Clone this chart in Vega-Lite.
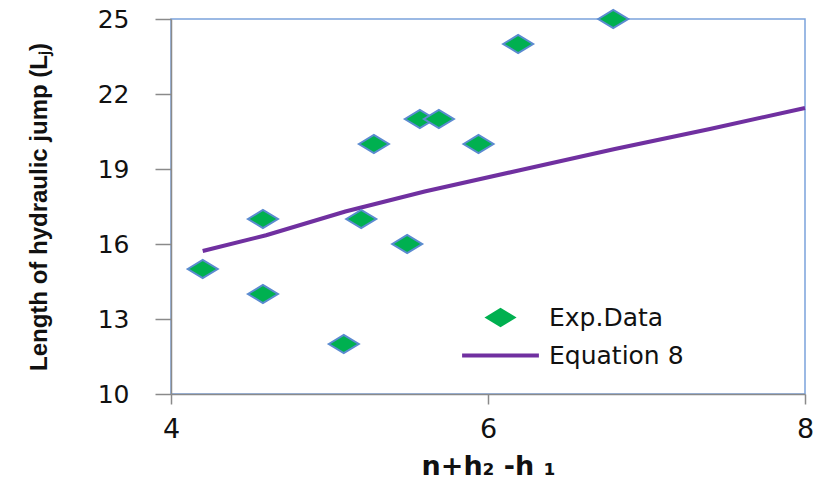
{
  "$schema": "https://vega.github.io/schema/vega-lite/v6.json",
  "width": 634,
  "height": 375,
  "autosize": {"type": "none"},
  "padding": {"left": 171, "top": 19, "right": 10, "bottom": 90},
  "background": "white",
  "config": {
    "view": {"stroke": "#7ba3dc", "strokeWidth": 1.5},
    "font": "DejaVu Sans"
  },
  "datasets": {
    "exp": [
      {"x": 4.2, "y": 15, "series": "Exp.Data"},
      {"x": 4.58, "y": 17, "series": "Exp.Data"},
      {"x": 4.58, "y": 14, "series": "Exp.Data"},
      {"x": 5.09, "y": 12, "series": "Exp.Data"},
      {"x": 5.2, "y": 17, "series": "Exp.Data"},
      {"x": 5.28, "y": 20, "series": "Exp.Data"},
      {"x": 5.49, "y": 16, "series": "Exp.Data"},
      {"x": 5.57, "y": 21, "series": "Exp.Data"},
      {"x": 5.69, "y": 21, "series": "Exp.Data"},
      {"x": 5.94, "y": 20, "series": "Exp.Data"},
      {"x": 6.19, "y": 24, "series": "Exp.Data"},
      {"x": 6.79, "y": 25, "series": "Exp.Data"}
    ],
    "eq": [
      {"x": 4.2, "y": 15.72, "series": "Equation 8"},
      {"x": 4.6, "y": 16.35, "series": "Equation 8"},
      {"x": 5.1, "y": 17.3, "series": "Equation 8"},
      {"x": 5.6, "y": 18.1, "series": "Equation 8"},
      {"x": 6.2, "y": 18.95, "series": "Equation 8"},
      {"x": 6.8, "y": 19.8, "series": "Equation 8"},
      {"x": 7.4, "y": 20.6, "series": "Equation 8"},
      {"x": 8.0, "y": 21.44, "series": "Equation 8"}
    ]
  },
  "encoding": {
    "x": {
      "field": "x", "type": "quantitative",
      "scale": {"domain": [4, 8], "nice": false, "zero": false},
      "axis": {
        "values": [4, 6, 8],
        "title": "n+h₂ -h ₁",
        "titleFont": "DejaVu Sans", "titleFontSize": 27, "titleFontWeight": "bold", "titleColor": "#111",
        "titlePadding": 11,
        "labelFont": "DejaVu Sans", "labelFontSize": 27, "labelColor": "#111", "labelPadding": 12,
        "domainColor": "#8a8a8a", "domainWidth": 1.5, "tickColor": "#8a8a8a", "tickWidth": 1.5, "tickSize": 10,
        "grid": false, "labelFlush": false
      }
    },
    "y": {
      "field": "y", "type": "quantitative",
      "scale": {"domain": [10, 25], "nice": false, "zero": false},
      "axis": {
        "values": [10, 13, 16, 19, 22, 25],
        "title": "Length of hydraulic jump (Lⱼ)",
        "titleFont": "Liberation Sans", "titleFontSize": 24, "titleFontWeight": "bold", "titleColor": "#111",
        "titlePadding": 46,
        "labelFont": "DejaVu Sans", "labelFontSize": 25, "labelColor": "#111", "labelPadding": 26,
        "domainColor": "#8a8a8a", "domainWidth": 1.5, "tickColor": "#8a8a8a", "tickWidth": 1.5, "tickSize": 16,
        "grid": false
      }
    },
    "color": {
      "field": "series", "type": "nominal",
      "scale": {"domain": ["Exp.Data", "Equation 8"], "range": ["#00b050", "#7030a0"]},
      "legend": {
        "title": null,
        "orient": "none",
        "legendX": 317,
        "legendY": 286,
        "labelFont": "DejaVu Sans", "labelFontSize": 25, "labelColor": "#111",
        "symbolSize": 900,
        "labelOffset": 36,
        "rowPadding": 12,
        "encode": {
          "symbols": {
            "update": {
              "shape": {"signal": "datum.value === 'Exp.Data' ? 'M-1,0L0,-0.6L1,0L0,0.6Z' : 'stroke'"},
              "size": {"signal": "datum.value === 'Exp.Data' ? 800 : 5900"},
              "fill": {"signal": "datum.value === 'Exp.Data' ? '#00b050' : 'transparent'"},
              "stroke": {"signal": "datum.value === 'Exp.Data' ? '#5b8bd0' : '#7030a0'"},
              "strokeWidth": {"signal": "datum.value === 'Exp.Data' ? 2 : 4"},
              "opacity": {"value": 1}
            }
          }
        }
      }
    }
  },
  "layer": [
    {
      "data": {"name": "eq"},
      "mark": {"type": "line", "strokeWidth": 4, "clip": false}
    },
    {
      "data": {"name": "exp"},
      "mark": {
        "type": "point", "filled": true, "opacity": 1,
        "shape": "M-1,0L0,-0.6L1,0L0,0.6Z", "size": 900,
        "stroke": "#5b8bd0", "strokeWidth": 2, "clip": false
      }
    }
  ]
}
